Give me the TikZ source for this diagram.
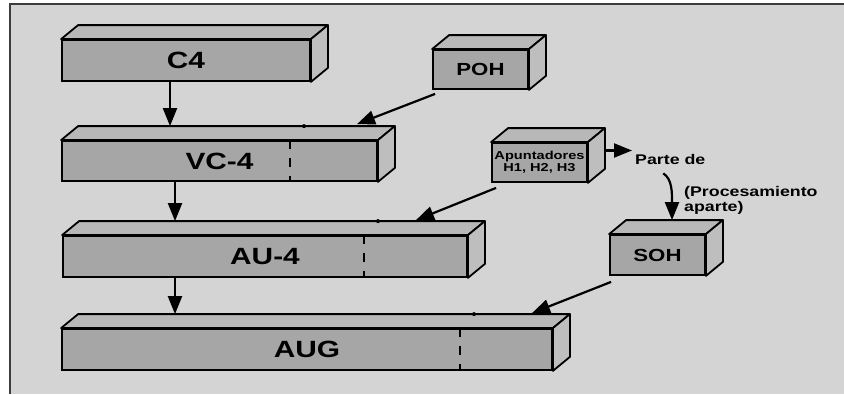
\documentclass[tikz,border=0pt]{standalone}
\usepackage{fontspec}
\newfontfamily\labfont[FakeStretch=1.27]{Liberation Sans}
\usetikzlibrary{arrows.meta}
\definecolor{bgc}{RGB}{212,212,212}
\definecolor{frontc}{RGB}{166,166,166}
\definecolor{topc}{RGB}{184,184,184}
\definecolor{sidec}{RGB}{190,190,190}
\definecolor{framec}{RGB}{60,60,60}
\tikzset{
 front/.style={draw=black, fill=frontc, line width=1.8pt, inner sep=0pt},
 bigbox/.style={front, font=\labfont\bfseries\fontsize{23.5}{26}\selectfont},
 smallbox/.style={front, font=\labfont\bfseries\fontsize{17.5}{20}\selectfont},
 apubox/.style={front, align=center, font=\labfont\bfseries\fontsize{11.5}{12}\selectfont},
 topface/.style={draw=black, fill=topc, line width=1.8pt, line join=round},
 sideface/.style={draw=black, fill=sidec, line width=1.8pt, line join=round},
 arr/.style={line width=2.2pt, -{Triangle[length=18pt,width=14pt]}},
 cut/.style={line width=2.4pt, dash pattern=on 9pt off 9pt},
 note/.style={font=\labfont\bfseries\fontsize{14}{15}\selectfont, inner sep=0pt},
}
\newcommand\cubefaces[1]{%
 \draw[topface] (#1.north west) -- ++(17,-14) -- ([shift={(17,-14)}]#1.north east) -- (#1.north east) -- cycle;
 \draw[sideface] (#1.north east) -- ++(17,-14) -- ([shift={(17,-14)}]#1.south east) -- (#1.south east) -- cycle;}
\begin{document}
\begin{tikzpicture}[x=1pt,y=-1pt]
\useasboundingbox (0,0) rectangle (844,394);
\fill[white] (0,0) rectangle (844,394);
\fill[bgc] (10,4) rectangle (844,394);
\draw[framec, line width=2pt] (10,394) -- (10,4) -- (844,4);

% boxes
\node[bigbox, minimum width=248pt, minimum height=41pt] (c4) at (186,60.5) {C4};
\cubefaces{c4}
\node[smallbox, minimum width=95pt, minimum height=39pt] (poh) at (480.5,69.5) {POH};
\cubefaces{poh}
\node[bigbox, minimum width=315pt, minimum height=40pt] (vc4) at (219.5,161) {VC-4};
\cubefaces{vc4}
\node[apubox, minimum width=95pt, minimum height=39pt] (apu) at (539.5,162.5) {Apuntadores\\H1, H2, H3};
\cubefaces{apu}
\node[bigbox, minimum width=404pt, minimum height=41pt] (au4) at (265,256.5) {AU-4};
\cubefaces{au4}
\node[smallbox, minimum width=95pt, minimum height=40pt] (soh) at (657.5,255) {SOH};
\cubefaces{soh}
\node[bigbox, minimum width=490pt, minimum height=41pt] (aug) at (307,349.5) {AUG};
\cubefaces{aug}

% dashed cuts
\draw[cut] ([xshift=70.5pt]vc4.north) -- ([xshift=70.5pt]vc4.south);
\fill ([shift={(84.5,-14)}]vc4.north) circle (2pt);
\draw[cut] ([xshift=99pt]au4.north) -- ([xshift=99pt]au4.south);
\fill ([shift={(113,-14)}]au4.north) circle (2pt);
\draw[cut] ([xshift=153pt]aug.north) -- ([xshift=153pt]aug.south);
\fill ([shift={(167,-14)}]aug.north) circle (2pt);

% back top edges
\coordinate (vc4back) at ([yshift=14pt]vc4.north);
\coordinate (au4back) at ([yshift=14pt]au4.north);
\coordinate (augback) at ([yshift=14pt]aug.north);

% vertical arrows
\draw[arr] ([xshift=-16pt]c4.south) -- ([xshift=-16pt]c4.south |- vc4back);
\draw[arr] ([xshift=-44.5pt]vc4.south) -- ([xshift=-44.5pt]vc4.south |- au4back);
\draw[arr] ([xshift=-90pt]au4.south) -- ([xshift=-90pt]au4.south |- augback);

% diagonal arrows
\draw[arr] ([shift={(3,4)}]poh.south west) -- ([shift={(137.5,-16)}]vc4.north);
\draw[arr] ([shift={(5,5)}]apu.south west) -- ([shift={(151,-15)}]au4.north);
\draw[arr] ([shift={(2,6)}]soh.south west) -- ([shift={(225,-15)}]aug.north);

% labels
\node[note, anchor=west] (parte) at (635,159) {Parte de};
\node[note, anchor=north west, align=left] (proc) at (684,186) {(Procesamiento\\aparte)};
\coordinate (pa) at ([shift={(17,-12)}]apu.east);
\draw[arr] (pa) -- ([xshift=-3pt]parte.west |- pa);
\draw[arr] ([xshift=-7pt,yshift=-9pt]parte.south) .. controls +(9,6) and +(0,-28) .. ([shift={(14.5,-14)}]soh.north);
\end{tikzpicture}
\end{document}
